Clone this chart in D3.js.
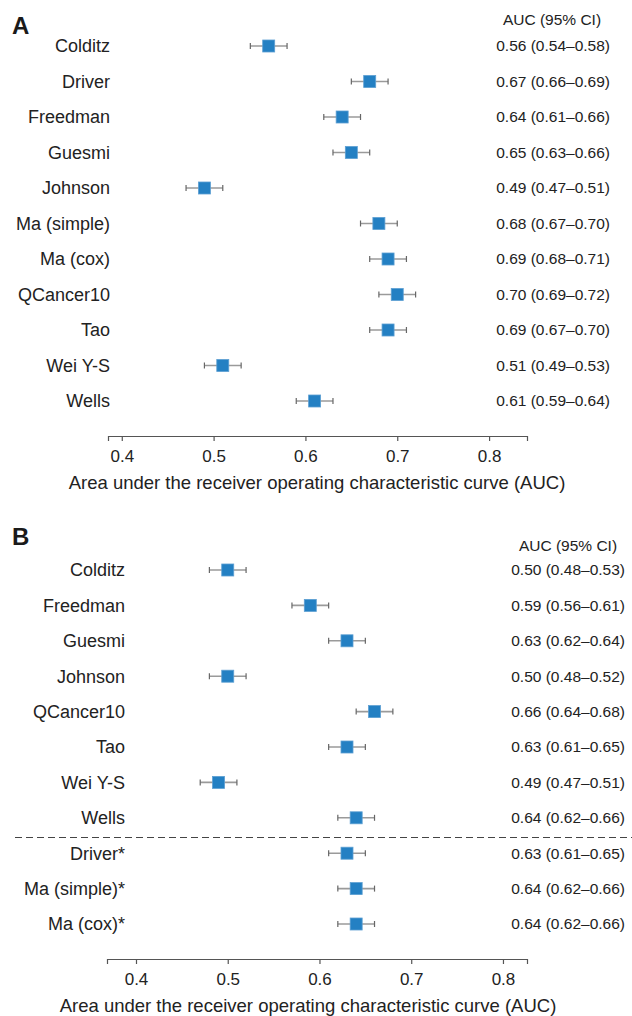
<!DOCTYPE html>
<html>
<head>
<meta charset="utf-8">
<script src="https://cdn.jsdelivr.net/npm/d3@7"></script>
<style>
  html, body { margin: 0; padding: 0; background: #fff; }
  svg { display: block; font-family: "Liberation Sans", Arial, Helvetica, sans-serif; }
</style>
</head>
<body>
<svg id="chart" width="632" height="1016"></svg>
<script>
// ---- Panel A data ----
const modelsA = ["Colditz", "Driver", "Freedman", "Guesmi", "Johnson", "Ma (simple)", "Ma (cox)", "QCancer10", "Tao", "Wei Y-S", "Wells"];
const aucA    = [0.56, 0.67, 0.64, 0.65, 0.49, 0.68, 0.69, 0.70, 0.69, 0.51, 0.61];
const loA     = [0.54, 0.65, 0.62, 0.63, 0.47, 0.66, 0.67, 0.68, 0.67, 0.49, 0.59];
const hiA     = [0.58, 0.69, 0.66, 0.67, 0.51, 0.70, 0.71, 0.72, 0.71, 0.53, 0.63];
const labelsA = ["0.56 (0.54–0.58)", "0.67 (0.66–0.69)", "0.64 (0.61–0.66)", "0.65 (0.63–0.66)", "0.49 (0.47–0.51)", "0.68 (0.67–0.70)", "0.69 (0.68–0.71)", "0.70 (0.69–0.72)", "0.69 (0.67–0.70)", "0.51 (0.49–0.53)", "0.61 (0.59–0.64)"];

// ---- Panel B data ----
const modelsB = ["Colditz", "Freedman", "Guesmi", "Johnson", "QCancer10", "Tao", "Wei Y-S", "Wells", "Driver*", "Ma (simple)*", "Ma (cox)*"];
const aucB    = [0.50, 0.59, 0.63, 0.50, 0.66, 0.63, 0.49, 0.64, 0.63, 0.64, 0.64];
const loB     = [0.48, 0.57, 0.61, 0.48, 0.64, 0.61, 0.47, 0.62, 0.61, 0.62, 0.62];
const hiB     = [0.52, 0.61, 0.65, 0.52, 0.68, 0.65, 0.51, 0.66, 0.65, 0.66, 0.66];
const labelsB = ["0.50 (0.48–0.53)", "0.59 (0.56–0.61)", "0.63 (0.62–0.64)", "0.50 (0.48–0.52)", "0.66 (0.64–0.68)", "0.63 (0.61–0.65)", "0.49 (0.47–0.51)", "0.64 (0.62–0.66)", "0.63 (0.61–0.65)", "0.64 (0.62–0.66)", "0.64 (0.62–0.66)"];
const separatorAfterB = "Wells";

const tickValues = [0.4, 0.5, 0.6, 0.7, 0.8];
const header = "AUC (95% CI)";
const axisTitle = "Area under the receiver operating characteristic curve (AUC)";

const svg = d3.select("#chart");

function panel(cfg) {
  const g = svg.append("g");
  const x = d3.scaleLinear().domain(cfg.xDomain).range(cfg.xRange);
  const y = d3.scalePoint().domain(cfg.models).range(cfg.yRange);
  const rows = cfg.models.map((m, i) => ({ m, v: cfg.auc[i], lo: cfg.lo[i], hi: cfg.hi[i], lab: cfg.labels[i] }));

  // panel letter
  g.append("text").attr("x", 12).attr("y", cfg.letterY)
    .attr("font-size", 24).attr("font-weight", "bold").attr("fill", "#1a1a1a").text(cfg.letter);

  // header
  g.append("text").attr("x", cfg.headerX).attr("y", cfg.headerY).attr("dy", "0.35em")
    .attr("text-anchor", "middle").attr("font-size", 15.5).attr("fill", "#222").text(header);

  // separator
  if (cfg.sepAfter) {
    const i = cfg.models.indexOf(cfg.sepAfter);
    const yy = (y(cfg.models[i]) + y(cfg.models[i + 1])) / 2 + 2;
    g.append("line").attr("x1", 15).attr("x2", 632).attr("y1", yy).attr("y2", yy)
      .attr("stroke", "#444").attr("stroke-width", 1.2).attr("stroke-dasharray", "7,4");
  }

  const row = g.selectAll("g.row").data(rows).join("g").attr("class", "row")
    .attr("transform", d => `translate(0,${y(d.m)})`);

  row.append("text").attr("x", cfg.labelX).attr("dy", "0.35em").attr("text-anchor", "end")
    .attr("font-size", 18).attr("fill", "#222").text(d => d.m);

  row.append("text").attr("x", cfg.valueX).attr("dy", "0.35em").attr("text-anchor", "end")
    .attr("font-size", 15.5).attr("fill", "#222").text(d => d.lab);

  row.append("line").attr("x1", d => x(d.lo)).attr("x2", d => x(d.hi))
    .attr("stroke", "#9a9a9a").attr("stroke-width", 1.6);
  row.append("line").attr("x1", d => x(d.lo)).attr("x2", d => x(d.lo)).attr("y1", -3).attr("y2", 3)
    .attr("stroke", "#666").attr("stroke-width", 1.2);
  row.append("line").attr("x1", d => x(d.hi)).attr("x2", d => x(d.hi)).attr("y1", -3).attr("y2", 3)
    .attr("stroke", "#666").attr("stroke-width", 1.2);
  row.append("rect").attr("x", d => x(d.v) - 6).attr("y", -6).attr("width", 12).attr("height", 12)
    .attr("fill", "#2480c3").attr("stroke", "#5d9fd3").attr("stroke-width", 0.8);

  // axis
  const ax = g.append("g").attr("transform", `translate(0,${cfg.axisY})`)
    .call(d3.axisBottom(x).tickValues(tickValues).tickFormat(d3.format(".1f")).tickSizeOuter(0).tickSize(5));
  ax.select(".domain").attr("stroke", "#555").attr("stroke-width", 1.2);
  ax.selectAll(".tick line").attr("stroke", "#555").attr("stroke-width", 1.2);
  ax.selectAll(".tick text").attr("font-size", 17).attr("fill", "#222")
    .attr("font-family", "Liberation Sans, Arial, sans-serif").attr("y", 0).attr("dy", "1.55em");

  g.append("text").attr("x", cfg.titleX).attr("y", cfg.axisY + 47).attr("dy", "0.35em")
    .attr("text-anchor", "middle").attr("font-size", 18.5).attr("fill", "#222").text(axisTitle);
}

panel({
  letter: "A", letterY: 34, headerX: 552, headerY: 20,
  models: modelsA, auc: aucA, lo: loA, hi: hiA, labels: labelsA,
  xDomain: [0.385, 0.8413], xRange: [108, 527], yRange: [46, 401],
  labelX: 110, valueX: 610, axisY: 436, titleX: 317
});

panel({
  letter: "B", letterY: 545, headerX: 568, headerY: 546,
  models: modelsB, auc: aucB, lo: loB, hi: hiB, labels: labelsB, sepAfter: separatorAfterB,
  xDomain: [0.3684, 0.8262], xRange: [107, 527], yRange: [570, 924],
  labelX: 125, valueX: 625, axisY: 959, titleX: 308
});
</script>
</body>
</html>
